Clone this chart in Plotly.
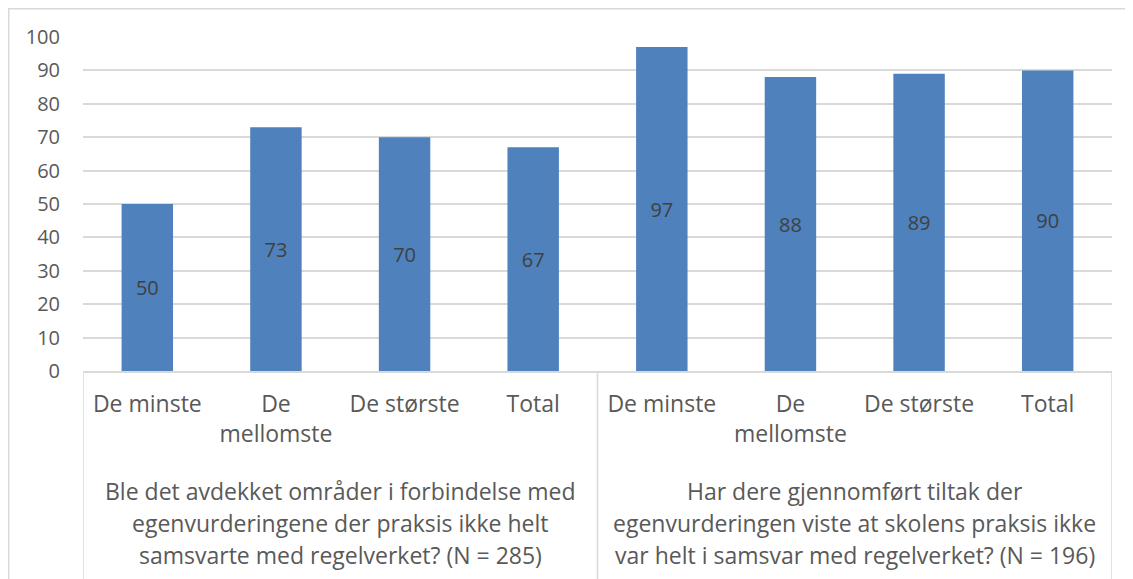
import plotly.graph_objects as go

# data
categories = ["De minste", "De<br>mellomste", "De største", "Total",
              "De minste", "De<br>mellomste", "De største", "Total"]
values = [50, 73, 70, 67, 97, 88, 89, 90]
group_lines = [
    ["Ble det avdekket områder i forbindelse med",
     "egenvurderingene der praksis ikke helt",
     "samsvarte med regelverket? (N = 285)"],
    ["Har dere gjennomført tiltak der",
     "egenvurderingen viste at skolens praksis ikke",
     "var helt i samsvar med regelverket? (N = 196)"],
]
group_size = 4
y_ticks = list(range(0, 101, 10))

FONT = "Open Sans"
TXT = "#595959"
GRID = "#D9D9D9"

xpos = list(range(len(values)))

fig = go.Figure()
fig.add_trace(go.Bar(
    x=xpos, y=values,
    marker=dict(color="#4F81BD", line=dict(width=0)),
    text=[str(v) for v in values],
    textposition="inside", insidetextanchor="middle",
    textangle=0, constraintext="none",
    textfont=dict(family=FONT, size=20, color="#404040"),
    width=0.4,
))

# group labels under the categories
line_y = [-0.36, -0.455, -0.55]
for g, lines in enumerate(group_lines):
    cx = g * group_size + (group_size - 1) / 2
    for ly, txt in zip(line_y, lines):
        fig.add_annotation(x=cx, y=ly, xref="x", yref="paper", text=txt,
                           showarrow=False, xanchor="center", yanchor="middle",
                           font=dict(family=FONT, size=23, color=TXT))

# dividers of the multi-level axis
for b in range(0, len(values) + 1, group_size):
    fig.add_shape(type="line", xref="x", yref="paper",
                  x0=b - 0.5, x1=b - 0.5, y0=0, y1=-0.7,
                  line=dict(color=GRID, width=1.5))

# chart border (top and left edges are the visible ones)
fig.add_shape(type="rect", xref="paper", yref="paper",
              x0=-0.0722, x1=1.05, y0=-0.7, y1=1.0846,
              line=dict(color=GRID, width=1.5))

fig.update_layout(
    width=1125, height=571,
    margin=dict(l=75, r=21, t=29, b=208),
    paper_bgcolor="white", plot_bgcolor="white",
    showlegend=False,
    font=dict(family=FONT, size=20, color=TXT),
    xaxis=dict(
        tickmode="array", tickvals=xpos, ticktext=categories,
        range=[-0.5, len(values) - 0.5],
        showgrid=False, showline=True, linecolor=GRID, linewidth=1.5,
        ticks="", ticklabelstandoff=12,
        tickfont=dict(family=FONT, size=23, color=TXT),
    ),
    yaxis=dict(
        range=[0, 100], tickvals=y_ticks,
        showgrid=True, gridcolor=GRID, gridwidth=1.5,
        zeroline=False, showline=False, ticks="",
        ticklabelstandoff=22,
        tickfont=dict(family=FONT, size=20, color=TXT),
    ),
)

fig.write_html("out.html")
